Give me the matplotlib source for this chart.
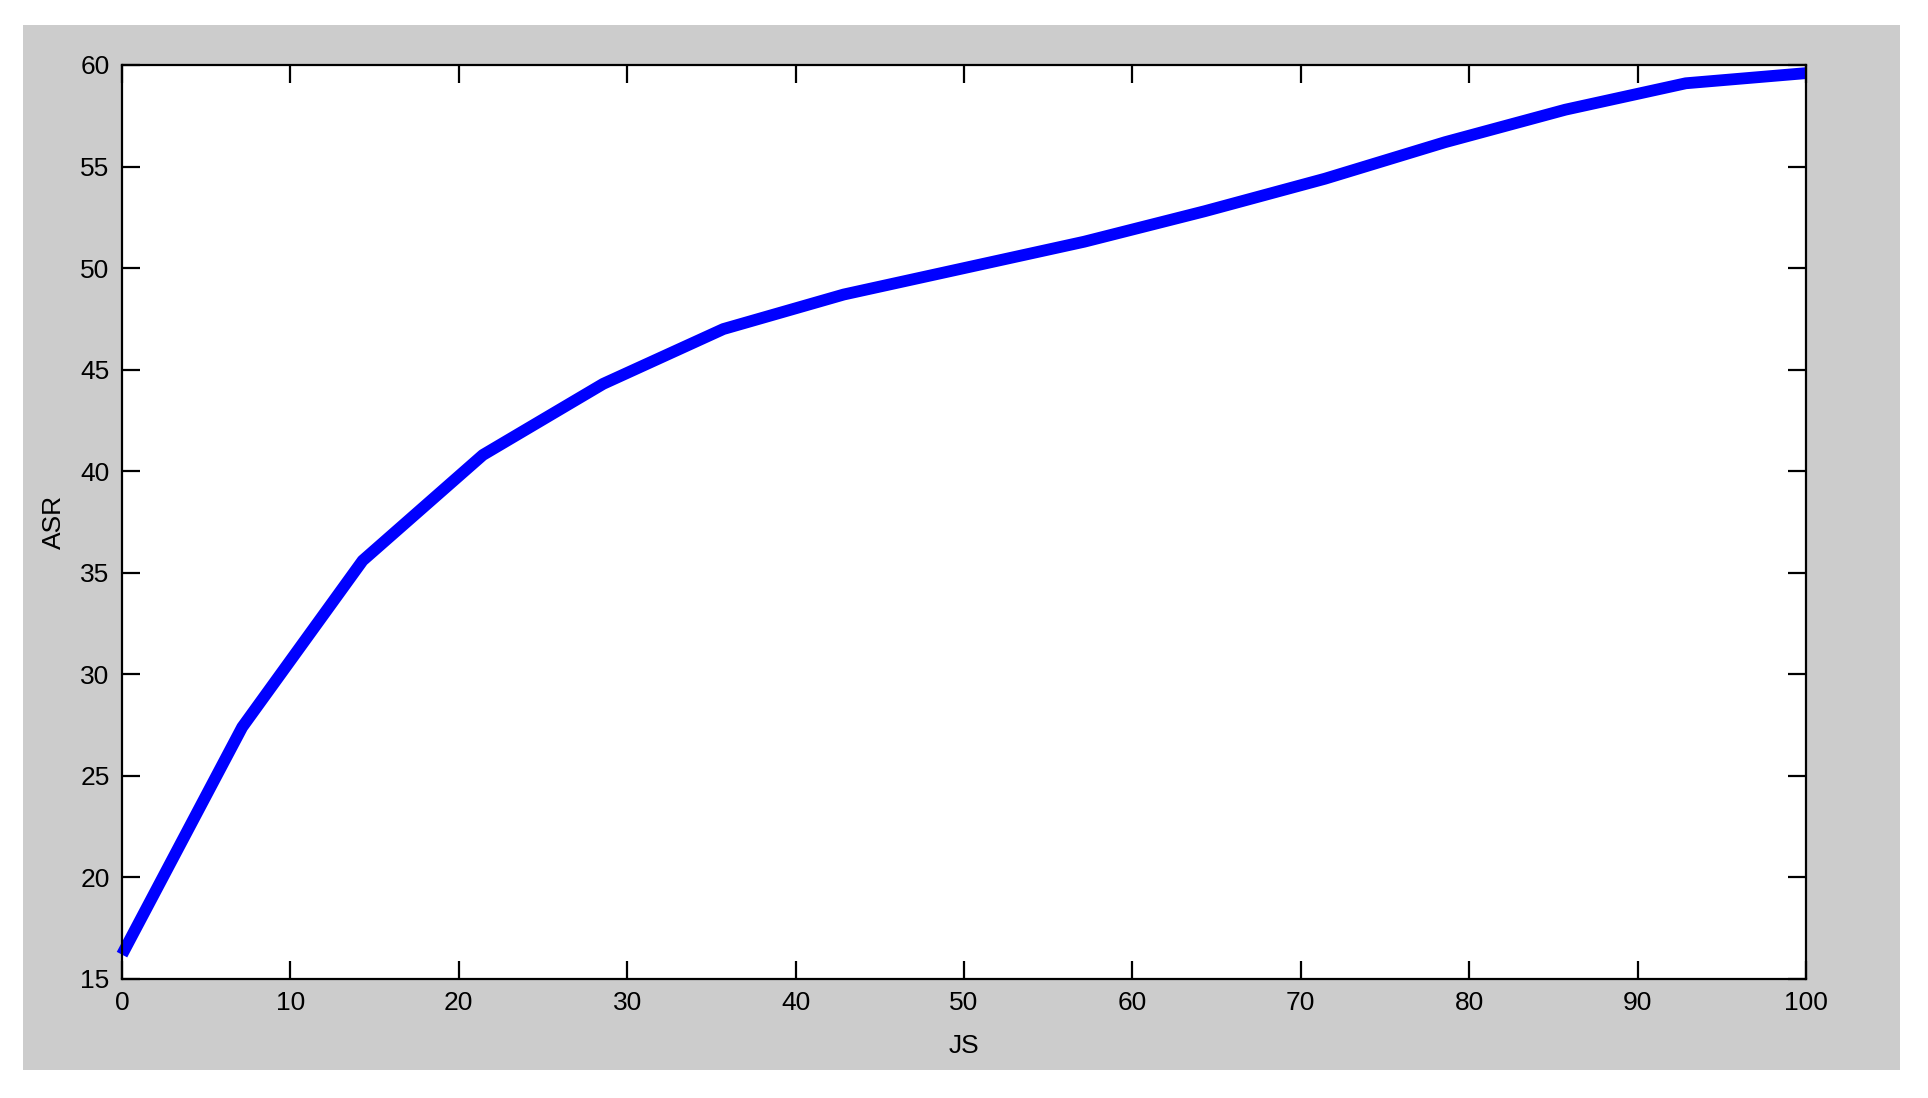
import matplotlib
matplotlib.use('Agg')
import matplotlib.pyplot as plt
from matplotlib.patches import Rectangle

# JS vs ASR (breakpoints every 100/14)
js = [0, 7.14, 14.29, 21.43, 28.57, 35.71, 42.86, 50.0,
      57.14, 64.29, 71.43, 78.57, 85.71, 92.86, 100.0]
asr = [16.2, 27.4, 35.6, 40.8, 44.3, 47.0, 48.7, 50.0,
       51.3, 52.8, 54.4, 56.2, 57.8, 59.1, 59.6]

x_ticks = [0, 10, 20, 30, 40, 50, 60, 70, 80, 90, 100]
y_ticks = [15, 20, 25, 30, 35, 40, 45, 50, 55, 60]

plt.rcParams['font.family'] = ['Liberation Sans', 'DejaVu Sans']

W, H = 1928, 1098
fig = plt.figure(figsize=(W / 100, H / 100), dpi=100, facecolor='white')

# grey matlab-ish figure background, with white margin around it
fig.patches.append(Rectangle((23 / W, (H - 1070) / H), (1900 - 23) / W, (1070 - 25) / H,
                             transform=fig.transFigure, facecolor='#cccccc',
                             edgecolor='none', zorder=-10))

# axes box in pixels: left 122, right 1806, top 65, bottom 979
ax = fig.add_axes([122 / W, (H - 979) / H, (1806 - 122) / W, (979 - 65) / H])
ax.set_facecolor('white')
ax.set_zorder(5)

ax.plot(js, asr, color='#0000ff', linewidth=8.5, solid_joinstyle='round',
        solid_capstyle='butt', clip_on=False)

ax.set_xlim(0, 100)
ax.set_ylim(15, 60)
ax.set_xticks(x_ticks)
ax.set_yticks(y_ticks)

for s in ax.spines.values():
    s.set_linewidth(1.6)
    s.set_color('black')

ax.tick_params(direction='in', length=13, width=1.6, top=True, right=True,
               labelsize=19, pad=9, colors='black')

ax.set_xlabel('JS', fontsize=19, labelpad=13)
ax.set_ylabel('ASR', fontsize=19)
ax.yaxis.set_label_coords(-0.033, 0.5)

fig.savefig('out.png', dpi=100, facecolor='white')
